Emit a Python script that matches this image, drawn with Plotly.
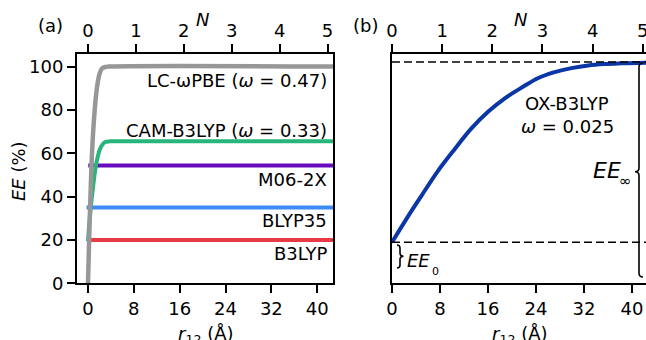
import plotly.graph_objects as go

# ---------------- data ----------------
# panel (a)
r_lc = [0, 0.2, 0.45, 0.7, 1.0, 1.3, 1.6, 2.0, 2.4, 3.0, 3.6, 45]
ee_lc = [0, 20, 42, 60, 74, 84, 91, 96.5, 99, 99.8, 100, 100]
r_cam = [0, 0.35, 0.93, 1.5, 2.1, 2.6, 3.0, 3.8, 4.5, 45]
ee_cam = [19.5, 31.5, 45.5, 56, 62, 64.3, 65.2, 65.5, 65.5, 65.5]
r_m06 = [0.05, 45]
ee_m06 = [54.3, 54.3]
r_blyp35 = [-0.25, 45]
ee_blyp35 = [35, 35]
r_b3lyp = [0, 45]
ee_b3lyp = [20, 20]
# panel (b)
r_ox = [0, 2.7, 4.9, 7.7, 10.5, 13.2, 16, 18.8, 21.9, 24.3, 27.1, 29.9, 32.7, 35.4, 38.2, 41, 43]
ee_ox = [20, 31.6, 40.6, 51.8, 61.5, 70.4, 77.9, 83.9, 89.1, 92.8, 95.5, 97.3, 98.5, 99.1, 99.4, 99.6, 99.7]
EE0 = 20
EEINF = 100

y_ticks = [0, 20, 40, 60, 80, 100]
r_ticks = [0, 8, 16, 24, 32, 40]
n_ticks = [0, 1, 2, 3, 4, 5]
R_PER_N = 8.36

labels_a = ["LC-ωPBE (<i>ω</i> = 0.47)", "CAM-B3LYP (<i>ω</i> = 0.33)", "M06-2X", "BLYP35", "B3LYP"]
label_a_y = [93.8, 70.7, 47.7, 29.2, 13.8]

# ---------------- styling ----------------
W, H = 646, 340
FONT = "DejaVu Sans"
def px(x):
    return x / W
def py(y):
    return 1 - y / H

YD = [py(283.3), py(54)]
XA = [px(77), px(333)]
XB = [px(392), 1.0]
xa_range = [-1.92, 42.76]
xb_range = [0, 42.33]

fig = go.Figure()

def line(x, y, color, w, xa="x", ya="y", shape="linear"):
    fig.add_trace(go.Scatter(x=x, y=y, mode="lines", xaxis=xa, yaxis=ya,
                             line=dict(color=color, width=w, shape=shape),
                             hoverinfo="skip", showlegend=False))

line(r_b3lyp, ee_b3lyp, "#e83a46", 4)
line(r_blyp35, ee_blyp35, "#3d8bf8", 4)
line(r_m06, ee_m06, "#6a0cbd", 4)
line(r_cam, ee_cam, "#27b57b", 4, shape="spline")
line(r_lc, ee_lc, "#979797", 4.5, shape="spline")
line(r_ox, ee_ox, "#0a36a6", 4, xa="x2", ya="y2", shape="spline")

# empty carrier traces so that the top (N) axes are drawn
for xa, ya in (("x3", "y"), ("x4", "y2")):
    fig.add_trace(go.Scatter(x=[None], y=[None], mode="lines", xaxis=xa, yaxis=ya,
                             hoverinfo="skip", showlegend=False))

axis_common = dict(showgrid=False, zeroline=False, showline=True, linecolor="black",
                   linewidth=2, ticks="outside", ticklen=8, tickwidth=2, tickcolor="black",
                   ticklabeloverflow="allow",
                   tickfont=dict(family=FONT, size=18, color="black"))

fig.update_layout(
    width=W, height=H, margin=dict(l=0, r=0, t=0, b=0, autoexpand=False),
    paper_bgcolor="white", plot_bgcolor="white", showlegend=False,
    font=dict(family=FONT, size=18, color="black"),
    xaxis=dict(domain=XA, range=xa_range, tickvals=r_ticks, anchor="y", **axis_common),
    yaxis=dict(domain=YD, range=[0, 105.8], tickvals=y_ticks, anchor="x", mirror=True, **axis_common),
    xaxis3=dict(overlaying="x", side="top", anchor="y",
                range=[xa_range[0] / R_PER_N, xa_range[1] / R_PER_N], tickvals=n_ticks, **axis_common),
    xaxis2=dict(domain=XB, range=xb_range, tickvals=r_ticks, anchor="y2", **axis_common),
    yaxis2=dict(domain=YD, range=[1.78, 103.56], anchor="x2", showgrid=False, zeroline=False,
                showline=True, linecolor="black", linewidth=2, ticks="", showticklabels=False),
    xaxis4=dict(overlaying="x2", side="top", anchor="y2",
                range=[xb_range[0] / R_PER_N, xb_range[1] / R_PER_N], tickvals=n_ticks, **axis_common),
)

# dashed reference lines in panel (b)
for v in (EE0, EEINF):
    fig.add_shape(type="line", xref="x2 domain", yref="y2", x0=0, x1=1, y0=v, y1=v,
                  line=dict(color="black", width=1.6, dash="8px,4px"))

# curly braces (drawn in pixel space)
def P(x, y):
    return f"{px(x):.5f},{py(y):.5f}"

brace_inf = ("M " + P(643, 63) + " Q " + P(639, 63) + " " + P(639, 67) +
             " L " + P(639, 168) + " Q " + P(639, 171.7) + " " + P(635, 171.7) +
             " Q " + P(639, 171.7) + " " + P(639, 175.5) +
             " L " + P(639, 273) + " Q " + P(639, 277) + " " + P(643, 277))
brace_0 = ("M " + P(397, 245) + " Q " + P(400, 245) + " " + P(400, 248) +
           " L " + P(400, 253) + " Q " + P(400, 256.3) + " " + P(403.5, 256.3) +
           " Q " + P(400, 256.3) + " " + P(400, 259.6) +
           " L " + P(400, 265) + " Q " + P(400, 268) + " " + P(397, 268))
for pth in (brace_inf, brace_0):
    fig.add_shape(type="path", xref="paper", yref="paper", path=pth,
                  line=dict(color="black", width=1.6))

ann = []
def A(text, x, y, xref="paper", yref="paper", xanchor="center", yanchor="middle", size=18, angle=0):
    ann.append(dict(text=text, x=x, y=y, xref=xref, yref=yref, xanchor=xanchor, yanchor=yanchor,
                    showarrow=False, textangle=angle, borderpad=0,
                    font=dict(family=FONT, size=size, color="black")))

# panel (a) labels
for t, yv in zip(labels_a, label_a_y):
    A(t, 41.9, yv, xref="x", yref="y", xanchor="right")
# panel (b) labels
A("OX-B3LYP", 29.2, 81.7, xref="x2", yref="y2")
A("<i>ω</i> = 0.025", 29.2, 71.3, xref="x2", yref="y2")
A("<i>EE</i>", px(622), py(170.5), xanchor="right", size=22)
A("∞", px(617.5), py(181), xanchor="left", size=15)
A("<i>EE</i>", px(406), py(260.5), xanchor="left", size=18)
A("0", px(430.5), py(271.5), xanchor="left", size=11)
# panel tags and axis titles
A("(a)", px(50), py(26))
A("(b)", px(365), py(25.5))
A("<i>N</i>", px(202), py(19.5))
A("<i>N</i>", px(520.5), py(19.5))
A("<i>EE</i> (%)", px(18), py(171), angle=-90)
A("<i>r</i><sub>12</sub> (Å)", px(206), py(322), yanchor="top")
A("<i>r</i><sub>12</sub> (Å)", px(520), py(322), yanchor="top")
fig.update_layout(annotations=ann)

fig.write_html("out.html", config={"displayModeBar": False},
               post_script="document.body.style.margin='0';document.body.style.overflow='hidden';"
                           "document.documentElement.style.overflow='hidden';")
